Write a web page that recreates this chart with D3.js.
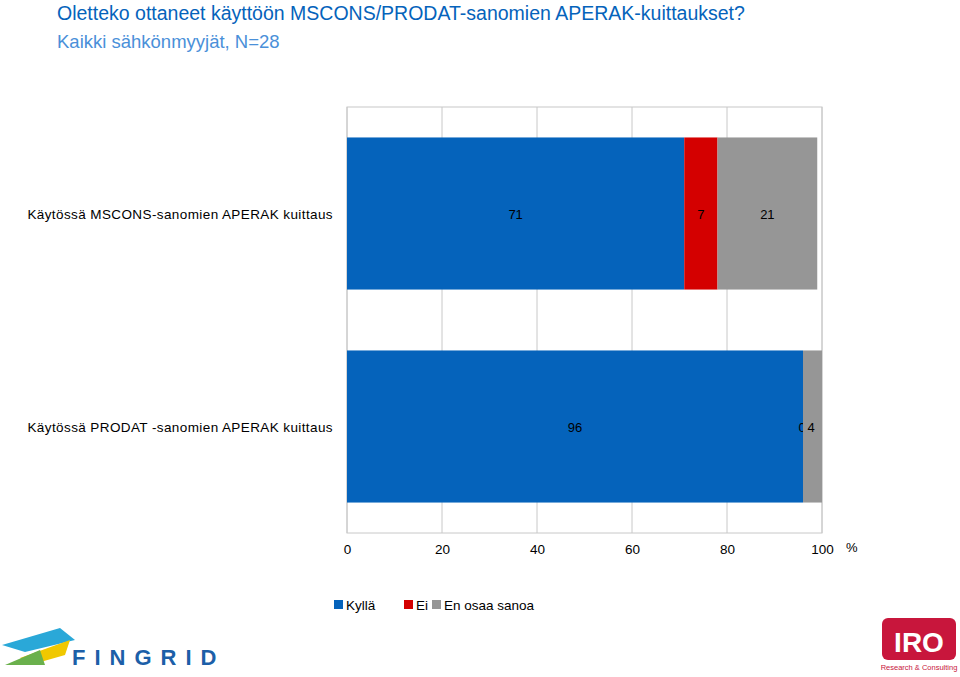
<!DOCTYPE html>
<html><head><meta charset="utf-8">
<script src="https://cdn.jsdelivr.net/npm/d3@7"></script>
<style>body{margin:0;background:#fff;font-family:"Liberation Sans",Arial,sans-serif}</style>
</head><body><div id="chart"></div>
<script>
var categories = ["Käytössä MSCONS-sanomien APERAK kuittaus", "Käytössä PRODAT -sanomien APERAK kuittaus"];
var seriesNames = ["Kyllä", "Ei", "En osaa sanoa"];
var kylla = [71, 96];
var ei = [7, 0];
var eos = [21, 4];
var ticks = [0, 20, 40, 60, 80, 100];
var colors = ["#0563bb", "#d40000", "#969696"];

var svg = d3.select("#chart").append("svg").attr("width", 960).attr("height", 677);

svg.append("text").attr("x", 57).attr("y", 20).attr("font-size", 19.5).attr("fill", "#0563bb")
  .text("Oletteko ottaneet käyttöön MSCONS/PRODAT-sanomien APERAK-kuittaukset?");
svg.append("text").attr("x", 57).attr("y", 48).attr("font-size", 18.5).attr("fill", "#4a90d9")
  .text("Kaikki sähkönmyyjät, N=28");

var x = d3.scaleLinear().domain([0, 100]).range([347, 822]);
var y = d3.scaleBand().domain(categories).range([107, 533]).paddingInner(0.286).paddingOuter(0.143);

var g = svg.append("g");
g.append("rect").attr("x", 347).attr("y", 107).attr("width", 475).attr("height", 426)
  .attr("fill", "none").attr("stroke", "#c8c8c8");
g.selectAll("line.grid").data(ticks).enter().append("line")
  .attr("x1", d => x(d)).attr("x2", d => x(d)).attr("y1", 107).attr("y2", 533)
  .attr("stroke", "#c8c8c8");

var rows = categories.map((c, i) => ({ cat: c, vals: [kylla[i], ei[i], eos[i]] }));
rows.forEach(function (r) {
  var acc = 0;
  r.vals.forEach(function (v, j) {
    var x0 = acc; acc += v;
    g.append("rect").attr("x", x(x0)).attr("y", y(r.cat)).attr("width", x(acc) - x(x0))
      .attr("height", y.bandwidth()).attr("fill", colors[j]);
    var cx = (x(x0) + x(acc)) / 2;
    if (v === 0) cx = x(x0) - 1;
    if (j === 2 && r.vals[1] === 0) cx = x(x0) + 8;
    g.append("text").attr("x", cx).attr("y", y(r.cat) + y.bandwidth() / 2 + 5)
      .attr("text-anchor", "middle").attr("font-size", 13).attr("fill", "#000").text(v);
  });
  g.append("text").attr("x", 333).attr("y", y(r.cat) + y.bandwidth() / 2 + 5)
    .attr("text-anchor", "end").attr("font-size", 13.5).attr("letter-spacing", 0.4).attr("fill", "#000").text(r.cat);
});

var axis = svg.append("g").attr("transform", "translate(0,533)")
  .call(d3.axisBottom(x).tickValues(ticks).tickSize(0).tickPadding(11));
axis.select(".domain").remove();
axis.selectAll("text").attr("font-size", 13.5).attr("fill", "#000").attr("font-family", "Liberation Sans, Arial");
svg.append("text").attr("x", 846).attr("y", 552).attr("font-size", 13).text("%");

var leg = svg.append("g").attr("transform", "translate(334,600)");
var lx = [0, 70, 98];
seriesNames.forEach(function (s, i) {
  leg.append("rect").attr("x", lx[i]).attr("y", 0).attr("width", 9).attr("height", 9).attr("fill", colors[i]);
  leg.append("text").attr("x", lx[i] + 12).attr("y", 10).attr("font-size", 13.5).text(s);
});

// Fingrid logo (approximation)
var fl = svg.append("g");
fl.append("path").attr("d", "M2,645 L60,628 L75,640 L25,652 Z").attr("fill", "#2aa8d8");
fl.append("path").attr("d", "M20,658 L70,640 L65,655 L30,665 Z").attr("fill", "#f0c800");
fl.append("path").attr("d", "M5,665 L40,650 L45,665 Z").attr("fill", "#6ab04c");
fl.append("text").attr("x", 72).attr("y", 665).attr("font-size", 22).attr("font-weight", "bold")
  .attr("fill", "#1c5fa8").attr("letter-spacing", 9).text("FINGRID");

// IRO logo (approximation)
var il = svg.append("g");
il.append("rect").attr("x", 882).attr("y", 618).attr("width", 74).attr("height", 42).attr("rx", 6).attr("fill", "#c8163c");
il.append("text").attr("x", 919).attr("y", 652).attr("text-anchor", "middle").attr("font-size", 28)
  .attr("font-weight", "bold").attr("fill", "#fff").text("IRO");
il.append("text").attr("x", 919).attr("y", 670).attr("text-anchor", "middle").attr("font-size", 7.5)
  .attr("fill", "#c8163c").text("Research & Consulting");
</script></body></html>
